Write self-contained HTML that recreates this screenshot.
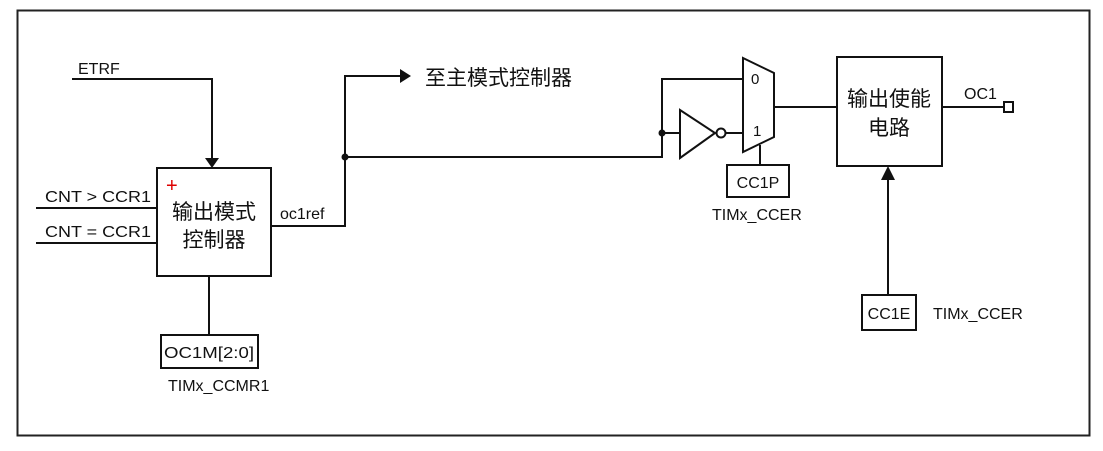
<!DOCTYPE html>
<html><head><meta charset="utf-8"><style>
html,body{margin:0;padding:0;background:#fff;}
svg{display:block;}
text{font-family:"Liberation Sans","Noto Sans CJK SC",sans-serif;fill:#111;}
</style></head><body>
<svg width="1103" height="451" viewBox="0 0 1103 451" xmlns="http://www.w3.org/2000/svg">
<rect x="17.5" y="10.5" width="1072" height="425" fill="none" stroke="#222" stroke-width="2"/>
<g stroke="#111" stroke-width="2" fill="none">
<polyline points="72,79 212,79 212,160"/>
<line x1="36" y1="208" x2="157" y2="208"/>
<line x1="36" y1="243" x2="157" y2="243"/>
<rect x="157" y="168" width="114" height="108" fill="#fff"/>
<line x1="209" y1="276" x2="209" y2="335"/>
<rect x="161" y="335" width="97" height="33"/>
<polyline points="271,226 345,226 345,76 400,76"/>
<polyline points="345,157 662,157 662,79 743,79"/>
<line x1="662" y1="133" x2="680" y2="133"/>
<polygon points="680,110 680,158 715,133"/>
<circle cx="721" cy="133" r="4.5" fill="#fff"/>
<line x1="726" y1="133" x2="743" y2="133"/>
<polygon points="743,58 774,73 774,137 743,152" fill="#fff"/>
<line x1="760" y1="145" x2="760" y2="165"/>
<rect x="727" y="165" width="62" height="32"/>
<line x1="774" y1="107" x2="837" y2="107"/>
<rect x="837" y="57" width="105" height="109"/>
<line x1="942" y1="107" x2="1004" y2="107"/>
<rect x="1004" y="102" width="9" height="10"/>
<line x1="888" y1="295" x2="888" y2="178"/>
<rect x="862" y="295" width="54" height="35"/>
</g>
<g fill="#111">
<polygon points="205,158 219,158 212,168"/>
<polygon points="400,69 400,83 411,76"/>
<polygon points="881,180 895,180 888,166"/>
<circle cx="345" cy="157" r="3.5"/>
<circle cx="662" cy="133" r="3.5"/>
</g>
<text x="78" y="74" font-size="16">ETRF</text>
<text x="45" y="202" font-size="16" textLength="106" lengthAdjust="spacingAndGlyphs">CNT &gt; CCR1</text>
<text x="45" y="237" font-size="16" textLength="106" lengthAdjust="spacingAndGlyphs">CNT = CCR1</text>
<text x="166" y="192" font-size="20" style="fill:#d00">+</text>
<text x="214" y="219" font-size="21" text-anchor="middle">输出模式</text>
<text x="214" y="247" font-size="21" text-anchor="middle">控制器</text>
<text x="280" y="219" font-size="16">oc1ref</text>
<text x="209" y="358" font-size="16" text-anchor="middle" textLength="90" lengthAdjust="spacingAndGlyphs">OC1M[2:0]</text>
<text x="168" y="391" font-size="16">TIMx_CCMR1</text>
<text x="425" y="85" font-size="21">至主模式控制器</text>
<text x="751" y="84" font-size="15">0</text>
<text x="753" y="136" font-size="15">1</text>
<text x="758" y="188" font-size="16" text-anchor="middle">CC1P</text>
<text x="712" y="220" font-size="16">TIMx_CCER</text>
<text x="889" y="106" font-size="21" text-anchor="middle">输出使能</text>
<text x="889" y="135" font-size="21" text-anchor="middle">电路</text>
<text x="964" y="99" font-size="16">OC1</text>
<text x="889" y="319" font-size="16" text-anchor="middle">CC1E</text>
<text x="933" y="319" font-size="16">TIMx_CCER</text>
</svg>
</body></html>
